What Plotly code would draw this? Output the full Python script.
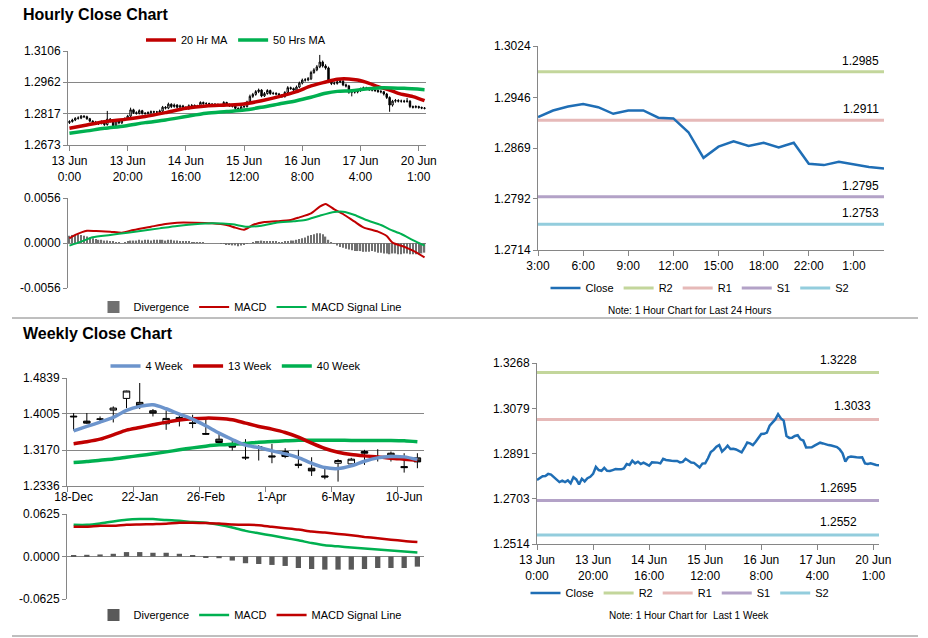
import plotly.graph_objects as go

FONT = "Liberation Sans, Arial, sans-serif"
W, H = 928, 638

# ---------------- Hourly data (last week, 1 hour bars) ----------------
hour_tick_labels = ["13 Jun<br>0:00", "13 Jun<br>20:00", "14 Jun<br>16:00", "15 Jun<br>12:00",
                    "16 Jun<br>8:00", "17 Jun<br>4:00", "20 Jun<br>1:00"]
hour_tick_idx = [0, 20, 40, 60, 80, 100, 120]

hour_close = [1.2781, 1.2788, 1.2796, 1.2797, 1.2806, 1.2803, 1.2794, 1.2783, 1.2772, 1.2778,
              1.2772, 1.2779, 1.2767, 1.2792, 1.2783, 1.2762, 1.2786, 1.2775, 1.2788, 1.2794,
              1.2806, 1.2835, 1.2822, 1.2819, 1.2831, 1.2819, 1.2818, 1.2822, 1.2826, 1.2825,
              1.2825, 1.2829, 1.2847, 1.2843, 1.2861, 1.2850, 1.2857, 1.2847, 1.2853, 1.2847,
              1.2840, 1.2854, 1.2855, 1.2853, 1.2850, 1.2869, 1.2864, 1.2864, 1.2861, 1.2860,
              1.2860, 1.2854, 1.2856, 1.2869, 1.2860, 1.2853, 1.2852, 1.2842, 1.2833, 1.2849,
              1.2850, 1.2871, 1.2897, 1.2906, 1.2919, 1.2926, 1.2899, 1.2910, 1.2924, 1.2910,
              1.2911, 1.2908, 1.2903, 1.2896, 1.2915, 1.2937, 1.2933, 1.2926, 1.2940, 1.2958,
              1.2972, 1.2973, 1.2978, 1.3007, 1.3019, 1.3033, 1.3055, 1.3037, 1.3028, 1.2964,
              1.2956, 1.2957, 1.2964, 1.2967, 1.2950, 1.2945, 1.2916, 1.2918, 1.2917, 1.2924,
              1.2931, 1.2936, 1.2933, 1.2928, 1.2926, 1.2924, 1.2920, 1.2918, 1.2908, 1.2892,
              1.2857, 1.2875, 1.2878, 1.2875, 1.2875, 1.2874, 1.2875, 1.2850, 1.2847, 1.2850,
              1.2846, 1.2843, 1.2842]
hour_open = [1.2776, 1.2781, 1.2788, 1.2796, 1.2797, 1.2806, 1.2803, 1.2794, 1.2783, 1.2772,
             1.2778, 1.2772, 1.2779, 1.2767, 1.2792, 1.2783, 1.2762, 1.2786, 1.2775, 1.2788,
             1.2794, 1.2806, 1.2835, 1.2822, 1.2819, 1.2831, 1.2819, 1.2818, 1.2822, 1.2826,
             1.2825, 1.2825, 1.2829, 1.2847, 1.2843, 1.2861, 1.2850, 1.2857, 1.2847, 1.2853,
             1.2847, 1.2840, 1.2854, 1.2855, 1.2853, 1.2850, 1.2869, 1.2864, 1.2864, 1.2861,
             1.2860, 1.2860, 1.2854, 1.2856, 1.2869, 1.2860, 1.2853, 1.2852, 1.2842, 1.2833,
             1.2849, 1.2850, 1.2871, 1.2897, 1.2906, 1.2919, 1.2926, 1.2899, 1.2910, 1.2924,
             1.2910, 1.2911, 1.2908, 1.2903, 1.2896, 1.2915, 1.2937, 1.2933, 1.2926, 1.2940,
             1.2958, 1.2972, 1.2973, 1.2978, 1.3007, 1.3019, 1.3033, 1.3055, 1.3037, 1.3028,
             1.2964, 1.2956, 1.2957, 1.2964, 1.2967, 1.2950, 1.2945, 1.2916, 1.2918, 1.2917,
             1.2924, 1.2931, 1.2936, 1.2933, 1.2928, 1.2926, 1.2924, 1.2920, 1.2918, 1.2908,
             1.2892, 1.2857, 1.2875, 1.2878, 1.2875, 1.2875, 1.2874, 1.2875, 1.2850, 1.2847,
             1.2850, 1.2846, 1.2843]
hour_high = [1.2787, 1.2794, 1.2801, 1.2805, 1.2811, 1.2810, 1.2808, 1.2798, 1.2787, 1.2784,
             1.2782, 1.2786, 1.2783, 1.2830, 1.2797, 1.2787, 1.2791, 1.2790, 1.2793, 1.2800,
             1.2812, 1.2845, 1.2840, 1.2828, 1.2837, 1.2835, 1.2825, 1.2828, 1.2832, 1.2831,
             1.2830, 1.2836, 1.2853, 1.2852, 1.2868, 1.2865, 1.2864, 1.2861, 1.2859, 1.2858,
             1.2851, 1.2860, 1.2862, 1.2860, 1.2858, 1.2874, 1.2873, 1.2870, 1.2868, 1.2866,
             1.2866, 1.2864, 1.2862, 1.2875, 1.2872, 1.2864, 1.2858, 1.2856, 1.2846, 1.2855,
             1.2856, 1.2877, 1.2905, 1.2913, 1.2926, 1.2933, 1.2930, 1.2917, 1.2930, 1.2928,
             1.2918, 1.2916, 1.2913, 1.2907, 1.2921, 1.2944, 1.2942, 1.2938, 1.2947, 1.2965,
             1.2979, 1.2981, 1.2986, 1.3015, 1.3027, 1.3041, 1.3088, 1.3062, 1.3045, 1.3034,
             1.2970, 1.2965, 1.2971, 1.2974, 1.2972, 1.2956, 1.2950, 1.2925, 1.2925, 1.2931,
             1.2937, 1.2942, 1.2941, 1.2938, 1.2934, 1.2931, 1.2929, 1.2926, 1.2922, 1.2913,
             1.2897, 1.2881, 1.2885, 1.2884, 1.2882, 1.2881, 1.2890, 1.2879, 1.2855, 1.2856,
             1.2854, 1.2850, 1.2848]
hour_low = [1.2770, 1.2776, 1.2783, 1.2790, 1.2792, 1.2798, 1.2789, 1.2778, 1.2766, 1.2767,
            1.2765, 1.2768, 1.2761, 1.2762, 1.2776, 1.2757, 1.2758, 1.2768, 1.2770, 1.2783,
            1.2789, 1.2801, 1.2816, 1.2813, 1.2814, 1.2813, 1.2812, 1.2813, 1.2817, 1.2819,
            1.2819, 1.2820, 1.2824, 1.2837, 1.2838, 1.2843, 1.2845, 1.2841, 1.2842, 1.2841,
            1.2835, 1.2836, 1.2849, 1.2847, 1.2844, 1.2846, 1.2858, 1.2858, 1.2855, 1.2854,
            1.2855, 1.2849, 1.2849, 1.2852, 1.2855, 1.2848, 1.2846, 1.2837, 1.2828, 1.2829,
            1.2844, 1.2846, 1.2866, 1.2890, 1.2900, 1.2912, 1.2893, 1.2894, 1.2905, 1.2904,
            1.2904, 1.2902, 1.2897, 1.2890, 1.2891, 1.2910, 1.2927, 1.2920, 1.2921, 1.2935,
            1.2952, 1.2965, 1.2967, 1.2972, 1.3001, 1.3013, 1.3027, 1.3030, 1.3020, 1.2958,
            1.2949, 1.2950, 1.2951, 1.2958, 1.2944, 1.2938, 1.2909, 1.2897, 1.2910, 1.2911,
            1.2918, 1.2925, 1.2927, 1.2922, 1.2920, 1.2917, 1.2913, 1.2911, 1.2901, 1.2885,
            1.2826, 1.2850, 1.2868, 1.2869, 1.2868, 1.2867, 1.2868, 1.2843, 1.2841, 1.2842,
            1.2840, 1.2838, 1.2837]
hour_idx = list(range(len(hour_close)))

ma20_idx = [0, 6, 12, 19, 26, 33, 40, 47, 54, 60, 66, 72, 78, 83, 88, 92, 96, 99, 103, 106, 110, 113, 118, 122]
ma20_val = [1.2750, 1.2765, 1.2780, 1.2791, 1.2804, 1.2822, 1.2842, 1.2853, 1.2857, 1.2862, 1.2877, 1.2896,
            1.2919, 1.2945, 1.2963, 1.2976, 1.2977, 1.2972, 1.2957, 1.2942, 1.2926, 1.2911, 1.2896, 1.2877]
ma50_idx = [0, 6, 12, 19, 26, 33, 40, 47, 54, 60, 66, 72, 78, 83, 88, 92, 97, 101, 106, 111, 115, 122]
ma50_val = [1.2727, 1.2738, 1.2750, 1.2761, 1.2776, 1.2788, 1.2804, 1.2819, 1.2827, 1.2834, 1.2847, 1.2862,
            1.2877, 1.2893, 1.2911, 1.2920, 1.2923, 1.2930, 1.2936, 1.2936, 1.2934, 1.2928]

macd_idx = [0, 2, 6, 9, 14, 18, 22, 28, 33, 37, 43, 49, 54, 57, 60, 63, 67, 71, 76, 79, 83, 86, 88, 91, 94,
            98, 101, 106, 109, 111, 115, 118, 122]
macd_val = [0.00058, 0.00100, 0.00153, 0.00149, 0.00141, 0.00128, 0.00162, 0.00203, 0.00236, 0.00253,
            0.00253, 0.00245, 0.00224, 0.00191, 0.00165, 0.00224, 0.00261, 0.00270, 0.00286, 0.00319,
            0.00369, 0.00452, 0.00485, 0.00419, 0.00361, 0.00265, 0.00195, 0.00141, 0.00087, 0.00004,
            -0.00046, -0.00096, -0.00178]
signal_idx = [0, 4, 8, 14, 20, 25, 31, 37, 43, 49, 56, 61, 66, 71, 77, 81, 86, 91, 94, 98, 102, 107, 110,
              114, 118, 122]
signal_val = [-0.00033, 0.00017, 0.00071, 0.00100, 0.00128, 0.00153, 0.00182, 0.00211, 0.00232, 0.00245,
              0.00232, 0.00203, 0.00216, 0.00253, 0.00270, 0.00286, 0.00340, 0.00386, 0.00390, 0.00348,
              0.00286, 0.00224, 0.00170, 0.00112, 0.00037, -0.00033]
hour_div = [0.0009, 0.0010, 0.0010, 0.0011, 0.0010, 0.0009, 0.0008, 0.0007, 0.0006, 0.0005,
            0.0004, 0.0004, 0.0003, 0.0003, 0.0002, 0.0002, 0.0001, 0.0001, 0.0000, 0.0001,
            0.0002, 0.0003, 0.0003, 0.0003, 0.0004, 0.0003, 0.0004, 0.0004, 0.0003, 0.0004,
            0.0004, 0.0004, 0.0004, 0.0003, 0.0004, 0.0004, 0.0003, 0.0003, 0.0002, 0.0002,
            0.0002, 0.0002, 0.0001, 0.0001, 0.0001, 0.0001, 0.0001, 0.0000, 0.0000, 0.0000,
            0.0000, 0.0000, -0.0001, -0.0001, -0.0002, -0.0002, -0.0003, -0.0003, -0.0004, -0.0003,
            -0.0002, -0.0001, 0.0000, 0.0001, 0.0002, 0.0002, 0.0003, 0.0002, 0.0002, 0.0002,
            0.0002, 0.0002, 0.0001, 0.0001, 0.0002, 0.0002, 0.0003, 0.0003, 0.0004, 0.0005,
            0.0006, 0.0007, 0.0009, 0.0010, 0.0011, 0.0012, 0.0012, 0.0011, 0.0008, 0.0004,
            0.0001, -0.0001, -0.0003, -0.0005, -0.0006, -0.0007, -0.0008, -0.0009, -0.0010, -0.0010,
            -0.0010, -0.0011, -0.0011, -0.0011, -0.0010, -0.0011, -0.0012, -0.0012, -0.0013, -0.0013,
            -0.0014, -0.0013, -0.0013, -0.0014, -0.0014, -0.0013, -0.0013, -0.0014, -0.0014, -0.0014,
            -0.0014, -0.0013, -0.0012]

# ---------------- Last 24 hours ----------------
day_labels = ["3:00", "4:00", "5:00", "6:00", "7:00", "8:00", "9:00", "10:00", "11:00", "12:00",
              "13:00", "14:00", "15:00", "16:00", "17:00", "18:00", "19:00", "20:00", "22:00", "23:00",
              "0:00", "1:00", "2:00", "3:00"]
day_close = [1.2916, 1.2926, 1.2932, 1.2936, 1.2931, 1.2921, 1.2926, 1.2926, 1.2915, 1.2914,
             1.2893, 1.2854, 1.2871, 1.2879, 1.2872, 1.2877, 1.2870, 1.2877, 1.2845, 1.2843,
             1.2848, 1.2844, 1.2840, 1.2838]
day_idx = list(range(len(day_close)))
day_levels = {"R2": 1.2985, "R1": 1.2911, "S1": 1.2795, "S2": 1.2753}
day_yticks = [1.2714, 1.2792, 1.2869, 1.2946, 1.3024]

week_levels = {"R2": 1.3228, "R1": 1.3033, "S1": 1.2695, "S2": 1.2552}
week_yticks = [1.2514, 1.2703, 1.2891, 1.3079, 1.3268]

# ---------------- Weekly data ----------------
weeks = ["18-Dec", "25-Dec", "1-Jan", "8-Jan", "15-Jan", "22-Jan", "29-Jan", "5-Feb", "12-Feb", "19-Feb",
         "26-Feb", "4-Mar", "11-Mar", "18-Mar", "25-Mar", "1-Apr", "8-Apr", "15-Apr", "22-Apr", "29-Apr",
         "6-May", "13-May", "20-May", "27-May", "3-Jun", "10-Jun", "17-Jun"]
wk_open = [1.3955, 1.3840, 1.3880, 1.4095, 1.4366, 1.4274, 1.4080, 1.3778, 1.3925, 1.3800,
           1.3553, 1.3421, 1.3313, 1.3003, 1.3251, 1.3034, 1.3135, 1.2841, 1.2748, 1.2569,
           1.2864, 1.2848, 1.3135, 1.3019, 1.3096, 1.2786, 1.2988]
wk_high = [1.4026, 1.4026, 1.3948, 1.4181, 1.4545, 1.4723, 1.4119, 1.4088, 1.3964, 1.3987,
           1.3871, 1.3561, 1.3406, 1.3421, 1.3282, 1.3313, 1.3212, 1.3174, 1.3003, 1.2748,
           1.2957, 1.2988, 1.3174, 1.3189, 1.3135, 1.3096, 1.3096]
wk_low = [1.3623, 1.3778, 1.3809, 1.3809, 1.4142, 1.4119, 1.3948, 1.3638, 1.3716, 1.3677,
          1.3522, 1.3328, 1.3158, 1.2941, 1.2926, 1.2864, 1.2980, 1.2748, 1.2569, 1.2492,
          1.2438, 1.2833, 1.2825, 1.2903, 1.2903, 1.2647, 1.2748]
wk_close = [1.3940, 1.3793, 1.3890, 1.4142, 1.4537, 1.4196, 1.4026, 1.3902, 1.3871, 1.3786,
            1.3538, 1.3344, 1.3236, 1.2988, 1.3228, 1.3011, 1.3019, 1.2817, 1.2686, 1.2546,
            1.2926, 1.2957, 1.3096, 1.2996, 1.3003, 1.2763, 1.2895]
ma4_wk = [1.3615, 1.3716, 1.3817, 1.3925, 1.4088, 1.4181, 1.4219, 1.4126, 1.4002, 1.3886,
          1.3731, 1.3561, 1.3414, 1.3282, 1.3228, 1.3150, 1.3081, 1.2995, 1.2864, 1.2763,
          1.2740, 1.2802, 1.2910, 1.2988, 1.3019, 1.3011, 1.2949]
ma13_wk = [1.3313, 1.3360, 1.3421, 1.3522, 1.3631, 1.3693, 1.3755, 1.3817, 1.3863, 1.3894,
           1.3909, 1.3902, 1.3871, 1.3793, 1.3716, 1.3654, 1.3576, 1.3468, 1.3329, 1.3205,
           1.3119, 1.3065, 1.3034, 1.3011, 1.2980, 1.2957, 1.2933]
ma40_wk = [1.2879, 1.2902, 1.2934, 1.2964, 1.3003, 1.3042, 1.3081, 1.3127, 1.3174, 1.3220,
           1.3259, 1.3290, 1.3305, 1.3321, 1.3352, 1.3367, 1.3383, 1.3398, 1.3398, 1.3398,
           1.3398, 1.3390, 1.3390, 1.3390, 1.3390, 1.3383, 1.3360]
wk_macd = [0.0466, 0.0466, 0.0486, 0.0516, 0.0541, 0.0551, 0.0551, 0.0536, 0.0526, 0.0506,
           0.0496, 0.0466, 0.0427, 0.0377, 0.0342, 0.0308, 0.0273, 0.0238, 0.0198, 0.0164,
           0.0149, 0.0134, 0.0119, 0.0104, 0.0089, 0.0074, 0.0060]
wk_signal = [0.0437, 0.0437, 0.0451, 0.0451, 0.0466, 0.0471, 0.0476, 0.0481, 0.0496, 0.0496,
             0.0491, 0.0486, 0.0471, 0.0466, 0.0461, 0.0437, 0.0417, 0.0397, 0.0367, 0.0352,
             0.0332, 0.0313, 0.0288, 0.0268, 0.0248, 0.0228, 0.0213]
wk_div = [0.0015, 0.0025, 0.0030, 0.0040, 0.0065, 0.0065, 0.0055, 0.0055, 0.0040, 0.0015,
          -0.0010, -0.0025, -0.0060, -0.0099, -0.0110, -0.0124, -0.0139, -0.0169, -0.0184, -0.0193,
          -0.0193, -0.0193, -0.0184, -0.0169, -0.0169, -0.0169, -0.0149]
wk_tick_idx = [0, 5, 10, 15, 20, 25]
wk_idx = list(range(len(weeks)))

# ---------------- styling ----------------
RED = "#C00000"
GREEN = "#00B050"
BLUE4 = "#6C94CC"
CLOSE_BLUE = "#1F6EB5"
LEVEL_COL = {"R2": "#C3D69B", "R1": "#E6B9B8", "S1": "#B3A2C7", "S2": "#93CDDD"}
GRID = "#868686"


def fx(p):
    return p / W


def fy(p):
    return 1 - p / H


fig = go.Figure()

# ---- hourly candles + MAs ----
fig.add_trace(go.Candlestick(
    x=hour_idx, open=hour_open, high=hour_high, low=hour_low, close=hour_close,
    xaxis="x", yaxis="y", whiskerwidth=0, showlegend=False, hoverinfo="skip",
    increasing=dict(line=dict(color="#000000", width=1), fillcolor="#FFFFFF"),
    decreasing=dict(line=dict(color="#000000", width=1), fillcolor="#000000")))
fig.add_trace(go.Scatter(x=ma20_idx, y=ma20_val, mode="lines", name="20 Hr MA",
                         line=dict(color=RED, width=3.5, shape="spline", smoothing=0.8),
                         xaxis="x", yaxis="y", legend="legend"))
fig.add_trace(go.Scatter(x=ma50_idx, y=ma50_val, mode="lines", name="50 Hrs MA",
                         line=dict(color=GREEN, width=3.5, shape="spline", smoothing=0.8),
                         xaxis="x", yaxis="y", legend="legend"))

# ---- hourly MACD ----
fig.add_trace(go.Bar(x=hour_idx, y=hour_div, name="Divergence", marker=dict(color="#707070", line=dict(width=0)),
                     width=0.45, xaxis="x2", yaxis="y2", legend="legend2"))
fig.add_trace(go.Scatter(x=macd_idx, y=macd_val, mode="lines", name="MACD",
                         line=dict(color=RED, width=2, shape="spline", smoothing=0.6),
                         xaxis="x2", yaxis="y2", legend="legend2"))
fig.add_trace(go.Scatter(x=signal_idx, y=signal_val, mode="lines", name="MACD Signal Line",
                         line=dict(color=GREEN, width=2, shape="spline", smoothing=0.6),
                         xaxis="x2", yaxis="y2", legend="legend2"))

# ---- last 24 hours with levels ----
rank = {"R2": 2, "R1": 3, "S1": 4, "S2": 5}
for key, val in day_levels.items():
    fig.add_trace(go.Scatter(x=[day_idx[0], day_idx[-1]], y=[val, val], mode="lines", name=key,
                             line=dict(color=LEVEL_COL[key], width=3), xaxis="x3", yaxis="y3",
                             legend="legend3", legendrank=rank[key]))
fig.add_trace(go.Scatter(x=day_idx, y=day_close, mode="lines", name="Close",
                         line=dict(color=CLOSE_BLUE, width=2.5), xaxis="x3", yaxis="y3",
                         legend="legend3", legendrank=1))

# ---- weekly candles + MAs ----
fig.add_trace(go.Candlestick(
    x=wk_idx, open=wk_open, high=wk_high, low=wk_low, close=wk_close,
    xaxis="x4", yaxis="y4", whiskerwidth=0, showlegend=False, hoverinfo="skip",
    increasing=dict(line=dict(color="#000000", width=1), fillcolor="#FFFFFF"),
    decreasing=dict(line=dict(color="#000000", width=1), fillcolor="#404040")))
fig.add_trace(go.Scatter(x=wk_idx, y=ma40_wk, mode="lines", name="40 Week",
                         line=dict(color=GREEN, width=3.5, shape="spline", smoothing=0.8),
                         xaxis="x4", yaxis="y4", legend="legend4", legendrank=3))
fig.add_trace(go.Scatter(x=wk_idx, y=ma13_wk, mode="lines", name="13 Week",
                         line=dict(color=RED, width=3.5, shape="spline", smoothing=0.8),
                         xaxis="x4", yaxis="y4", legend="legend4", legendrank=2))
fig.add_trace(go.Scatter(x=wk_idx, y=ma4_wk, mode="lines", name="4 Week",
                         line=dict(color=BLUE4, width=3.5, shape="spline", smoothing=0.8),
                         xaxis="x4", yaxis="y4", legend="legend4", legendrank=1))

# ---- weekly MACD ----
fig.add_trace(go.Bar(x=wk_idx, y=wk_div, name="Divergence", marker=dict(color="#595959", line=dict(width=0)),
                     width=0.4, xaxis="x5", yaxis="y5", legend="legend5"))
fig.add_trace(go.Scatter(x=wk_idx, y=wk_macd, mode="lines", name="MACD",
                         line=dict(color=GREEN, width=2.5, shape="spline", smoothing=0.6),
                         xaxis="x5", yaxis="y5", legend="legend5"))
fig.add_trace(go.Scatter(x=wk_idx, y=wk_signal, mode="lines", name="MACD Signal Line",
                         line=dict(color=RED, width=2.5, shape="spline", smoothing=0.6),
                         xaxis="x5", yaxis="y5", legend="legend5"))

# ---- last week hourly close with levels ----
for key, val in week_levels.items():
    fig.add_trace(go.Scatter(x=[hour_idx[0], hour_idx[-1]], y=[val, val], mode="lines", name=key,
                             line=dict(color=LEVEL_COL[key], width=3), xaxis="x6", yaxis="y6",
                             legend="legend6", legendrank=rank[key]))
fig.add_trace(go.Scatter(x=hour_idx, y=hour_close, mode="lines", name="Close",
                         line=dict(color=CLOSE_BLUE, width=2.5), xaxis="x6", yaxis="y6",
                         legend="legend6", legendrank=1))

# ---------------- axes ----------------
tickfont = dict(size=12, color="#000000", family=FONT)
base = dict(showline=True, linecolor=GRID, linewidth=1, tickfont=tickfont, zeroline=False,
            fixedrange=True, showgrid=False, tickcolor=GRID, ticklen=4, automargin=False)


def fmt(v):
    return f"{v:.4f}"


hour_y_ticks = [1.2673, 1.2817, 1.2962, 1.3106]
hmacd_ticks = [-0.0056, 0.0, 0.0056]
wk_y_ticks = [1.2336, 1.3170, 1.4005, 1.4839]
wmacd_ticks = [-0.0625, 0.0, 0.0625]

layout_axes = dict(
    xaxis=dict(base, domain=[fx(68), fx(426)], anchor="y", range=[-0.5, len(hour_idx) - 0.5],
               tickmode="array", tickvals=hour_tick_idx, ticktext=hour_tick_labels, ticks="outside",
               ticklen=5, rangeslider=dict(visible=False)),
    yaxis=dict(base, domain=[fy(145), fy(51)], anchor="x", range=[hour_y_ticks[0], hour_y_ticks[-1]],
               tickmode="array", tickvals=hour_y_ticks, ticktext=[fmt(v) for v in hour_y_ticks],
               showgrid=True, gridcolor=GRID, ticks="outside"),
    xaxis2=dict(base, domain=[fx(68), fx(426)], anchor="y2", range=[-0.5, len(hour_idx) - 0.5],
                showline=False, showticklabels=False, ticks=""),
    yaxis2=dict(base, domain=[fy(288), fy(198)], anchor="x2", range=[hmacd_ticks[0], hmacd_ticks[-1]],
                tickmode="array", tickvals=hmacd_ticks, ticktext=[fmt(v) for v in hmacd_ticks],
                showgrid=True, gridcolor=GRID, ticks="outside"),
    xaxis3=dict(base, domain=[fx(538), fx(884)], anchor="y3", range=[0, len(day_idx) - 1],
                tickmode="array", tickvals=day_idx[::3], ticktext=day_labels[::3], ticks="outside", ticklen=5),
    yaxis3=dict(base, domain=[fy(250), fy(46)], anchor="x3", range=[day_yticks[0], day_yticks[-1]],
                tickmode="array", tickvals=day_yticks, ticktext=[fmt(v) for v in day_yticks], ticks="outside"),
    xaxis4=dict(base, domain=[fx(67), fx(424)], anchor="y4", range=[-0.5, len(wk_idx) - 0.5],
                tickmode="array", tickvals=wk_tick_idx, ticktext=[weeks[i] for i in wk_tick_idx],
                ticks="", rangeslider=dict(visible=False),
                minor=dict(tickmode="array", tickvals=[i - 0.5 for i in wk_tick_idx], ticks="outside",
                           ticklen=5, tickcolor=GRID, showgrid=False)),
    yaxis4=dict(base, domain=[fy(486), fy(378)], anchor="x4", range=[wk_y_ticks[0], wk_y_ticks[-1]],
                tickmode="array", tickvals=wk_y_ticks, ticktext=[fmt(v) for v in wk_y_ticks],
                showgrid=True, gridcolor=GRID, ticks="outside"),
    xaxis5=dict(base, domain=[fx(67), fx(424)], anchor="y5", range=[-0.5, len(wk_idx) - 0.5],
                showline=False, showticklabels=False, ticks=""),
    yaxis5=dict(base, domain=[fy(599), fy(514)], anchor="x5", range=[wmacd_ticks[0], wmacd_ticks[-1]],
                tickmode="array", tickvals=wmacd_ticks, ticktext=[fmt(v) for v in wmacd_ticks],
                showgrid=True, gridcolor=GRID, ticks="outside"),
    xaxis6=dict(base, domain=[fx(537), fx(879)], anchor="y6", range=[0, len(hour_idx) - 1],
                tickmode="array", tickvals=hour_tick_idx, ticktext=hour_tick_labels, ticks="outside", ticklen=5),
    yaxis6=dict(base, domain=[fy(544), fy(363)], anchor="x6", range=[week_yticks[0], week_yticks[-1]],
                tickmode="array", tickvals=week_yticks, ticktext=[fmt(v) for v in week_yticks], ticks="outside"),
)


def legend_at(cx, cy):
    return dict(orientation="h", x=fx(cx), y=fy(cy), xanchor="center", yanchor="middle",
                font=dict(size=11, family=FONT, color="#000000"), bgcolor="rgba(0,0,0,0)",
                itemwidth=30, tracegroupgap=0, traceorder="normal")


annotations = [
    dict(text="<b>Hourly Close Chart</b>", xref="paper", yref="paper", x=fx(21), y=fy(14),
         xanchor="left", yanchor="middle", showarrow=False, font=dict(size=16, family=FONT, color="#000")),
    dict(text="<b>Weekly Close Chart</b>", xref="paper", yref="paper", x=fx(21), y=fy(333),
         xanchor="left", yanchor="middle", showarrow=False, font=dict(size=16, family=FONT, color="#000")),
    dict(text="Note: 1 Hour Chart for Last 24 Hours", xref="paper", yref="paper", x=fx(689), y=fy(310),
         xanchor="center", yanchor="middle", showarrow=False, font=dict(size=10, family=FONT, color="#000")),
    dict(text="Note: 1 Hour Chart for  Last 1 Week", xref="paper", yref="paper", x=fx(689), y=fy(615),
         xanchor="center", yanchor="middle", showarrow=False, font=dict(size=10, family=FONT, color="#000")),
]
for key, val in day_levels.items():
    annotations.append(dict(text=fmt(val), xref="x3", yref="y3", x=day_idx[-1], y=val, xanchor="right",
                            yanchor="bottom", xshift=-3, yshift=2, showarrow=False,
                            font=dict(size=12, family=FONT, color="#000")))
wk_label_px = {"R2": 838, "R1": 852, "S1": 838, "S2": 838}
for key, val in week_levels.items():
    annotations.append(dict(text=fmt(val), xref="paper", yref="y6", x=fx(wk_label_px[key]), y=val,
                            xanchor="center", yanchor="bottom", yshift=4, showarrow=False,
                            font=dict(size=12, family=FONT, color="#000")))

shapes = [
    dict(type="line", xref="paper", yref="paper", x0=fx(12), x1=fx(918), y0=fy(318), y1=fy(318),
         line=dict(color="#7F7F7F", width=1)),
    dict(type="line", xref="paper", yref="paper", x0=fx(12), x1=fx(918), y0=fy(636), y1=fy(636),
         line=dict(color="#7F7F7F", width=1)),
]

fig.update_layout(
    template="none",
    width=W, height=H, autosize=False,
    margin=dict(l=0, r=0, t=0, b=0, pad=0),
    paper_bgcolor="#FFFFFF", plot_bgcolor="#FFFFFF",
    font=dict(family=FONT, size=12, color="#000000"),
    bargap=0.5, barmode="overlay",
    legend=legend_at(236, 40),
    legend2=legend_at(250, 307),
    legend3=legend_at(700, 288),
    legend4=legend_at(236, 366),
    legend5=legend_at(250, 615),
    legend6=legend_at(680, 593),
    annotations=annotations,
    shapes=shapes,
    **layout_axes,
)

fig.write_html("out.html", config={"displayModeBar": False},
               post_script="document.body.style.margin='0px';document.body.style.padding='0px';"
                           "document.documentElement.style.overflow='hidden';")
